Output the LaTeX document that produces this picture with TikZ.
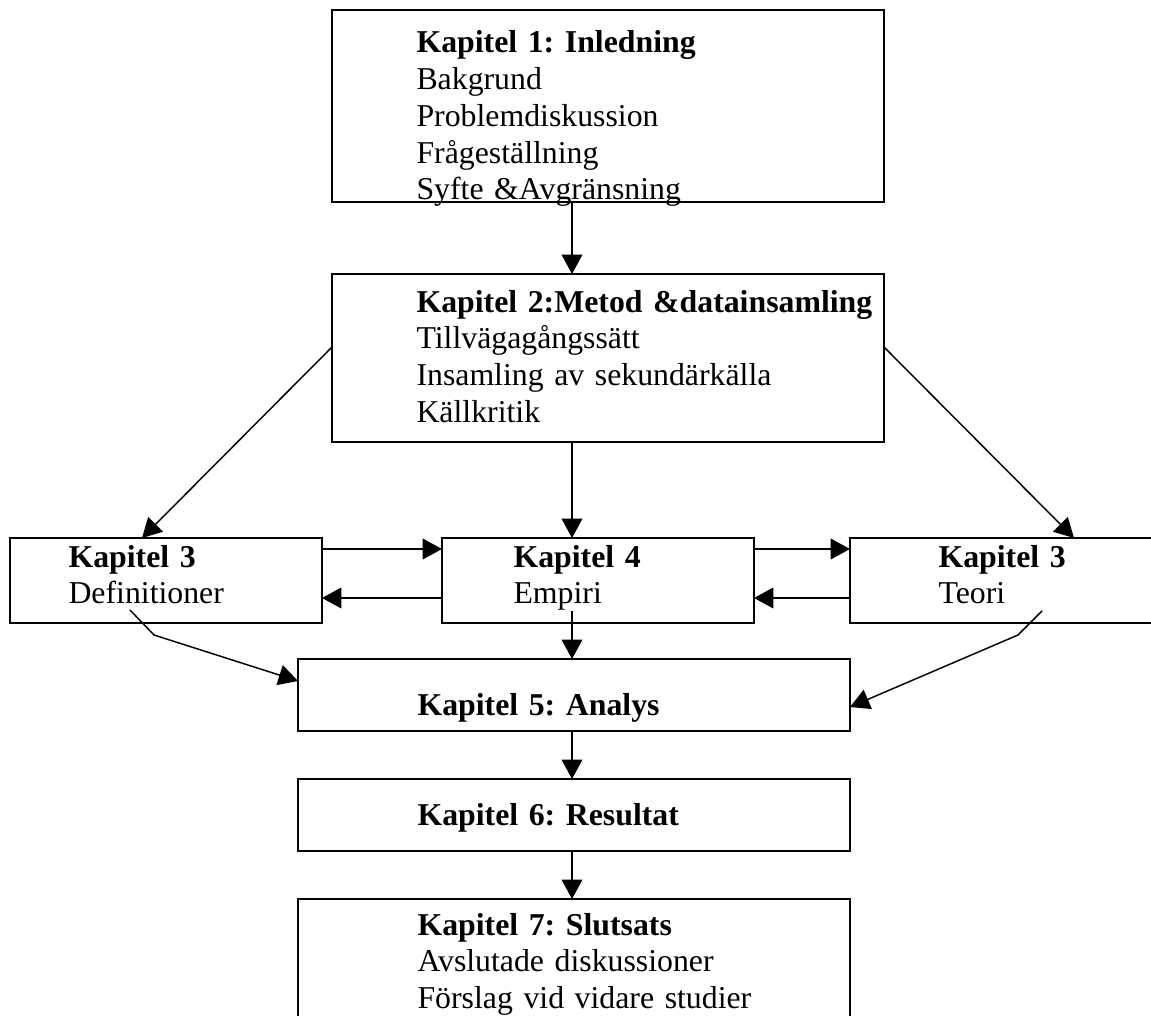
\documentclass[tikz,border=0pt]{standalone}
\usepackage{fontspec}
\setmainfont{Liberation Serif}
\usetikzlibrary{arrows.meta}
\frenchspacing

\begin{document}
\begin{tikzpicture}[x=0.3774pt, y=-0.3774pt,
    chap_box/.style 2 args={draw, line width=0.7pt, inner sep=0pt, outer sep=0pt, anchor=north west,
        minimum width=#1*0.3774pt, minimum height=#2*0.3774pt},
    chap_text/.style={anchor=base west, inner sep=0pt, text width=8cm, align=left,
        font=\fontsize{12}{13.85}\selectfont},
    arr/.style={-{Triangle[length=7.3pt,width=7.8pt]}, line width=0.55pt}]

    \useasboundingbox (0,0) rectangle (1151,1016);
    \clip (0,0) rectangle (1151,1016);

    % boxes
    \node[chap_box={552}{192}] (k1) at (332,10) {};
    \node[chap_box={552}{168}] (k2) at (332,274) {};
    \node[chap_box={312}{85}] (def) at (10,538) {};
    \node[chap_box={312}{85}] (k4) at (442,538) {};
    \node[chap_box={330}{85}] (teo) at (850,538) {};
    \node[chap_box={552}{72}] (k5) at (298,659) {};
    \node[chap_box={552}{72}] (k6) at (298,779) {};
    \node[chap_box={552}{140}] (k7) at (298,899) {};

    % texts
    \node[chap_text] (k1_txt) at (416,53) {\textbf{Kapitel 1: Inledning}\\Bakgrund\\Problemdiskussion\\Frågeställning\\Syfte \&Avgränsning};
    \node[chap_text] (k2_txt) at (416,312) {\textbf{Kapitel 2:Metod \&datainsamling}\\Tillvägagångssätt\\Insamling av sekundärkälla\\Källkritik};
    \node[chap_text] (def_txt) at (68,567) {\textbf{Kapitel 3}\\Definitioner};
    \node[chap_text] (k4_txt) at (513,567) {\textbf{Kapitel 4}\\Empiri};
    \node[chap_text] (teo_txt) at (938,567) {\textbf{Kapitel 3}\\Teori};
    \node[chap_text] (k5_txt) at (417,715) {\textbf{Kapitel 5: Analys}};
    \node[chap_text] (k6_txt) at (417,825) {\textbf{Kapitel 6: Resultat}};
    \node[chap_text] (k7_txt) at (417,935) {\textbf{Kapitel 7: Slutsats}\\Avslutade diskussioner\\Förslag vid vidare studier};

    \coordinate (spine) at (572,0);
    \coordinate (e_start) at (572,611);
    \coordinate (d_start) at (130,610);
    \coordinate (d_bend) at (154,635);
    \coordinate (t_start) at (1042,611);
    \coordinate (t_bend) at (1018,635);

    % arrows
    \draw[arr] (k1.south -| spine) -- (k2.north -| spine);
    \draw[arr] (k2.south -| spine) -- (k4.north -| spine);
    \draw[arr] (k2.west |- 0,347) -- (def.north -| 142,0);
    \draw[arr] (k2.east |- 0,347) -- (teo.north -| 1074,0);
    \draw[arr] (def.east |- 0,549) -- (k4.west |- 0,549);
    \draw[arr] (k4.west |- 0,598) -- (def.east |- 0,598);
    \draw[arr] (k4.east |- 0,549) -- (teo.west |- 0,549);
    \draw[arr] (teo.west |- 0,598) -- (k4.east |- 0,598);
    \draw[arr] (d_start) -- (d_bend) -- (k5.west |- 0,681);
    \draw[arr] (t_start) -- (t_bend) -- (k5.east |- 0,707);
    \draw[arr] (e_start) -- (k5.north -| spine);
    \draw[arr] (k5.south -| spine) -- (k6.north -| spine);
    \draw[arr] (k6.south -| spine) -- (k7.north -| spine);

\end{tikzpicture}
\end{document}
